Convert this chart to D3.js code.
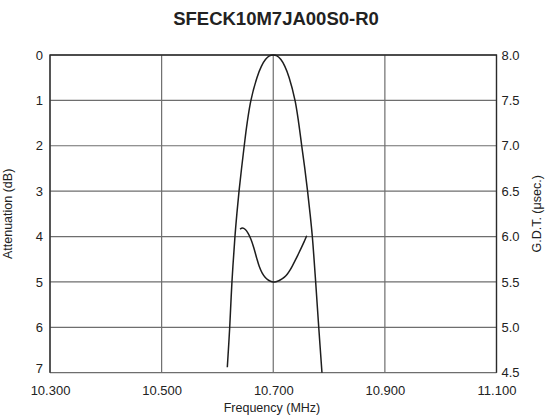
<!DOCTYPE html>
<html>
<head>
<meta charset="utf-8">
<script src="https://cdn.jsdelivr.net/npm/d3@7"></script>
<style>
html,body{margin:0;padding:0;background:#fff;}
svg{display:block;font-family:"Liberation Sans",Arial,Helvetica,sans-serif;}
</style>
</head>
<body>
<svg id="chart" width="554" height="418"></svg>
<script>
const title = "SFECK10M7JA00S0-R0";
const xTicks = [10.3, 10.5, 10.7, 10.9, 11.1];
const xTickLabels = ["10.300", "10.500", "10.700", "10.900", "11.100"];
const attTicks = [0, 1, 2, 3, 4, 5, 6, 7];
const gdtTicks = [8.0, 7.5, 7.0, 6.5, 6.0, 5.5, 5.0, 4.5];

// Attenuation curve (frequency MHz, attenuation dB), left skirt -> peak -> right skirt
const attFreq = [10.6177, 10.6220, 10.6260, 10.6314, 10.6348, 10.6387, 10.6432, 10.6480, 10.6532, 10.6600,
                 10.6708, 10.6787, 10.6860, 10.6932, 10.7000, 10.7066, 10.7137, 10.7208, 10.7285,
                 10.7390, 10.7456, 10.7510, 10.7565, 10.7615, 10.7660, 10.7700, 10.7760, 10.7815, 10.7873];
const attVal  = [6.88, 6.0, 5.0, 4.0, 3.5, 3.0, 2.5, 2.0, 1.5, 1.0,
                 0.5, 0.25, 0.1, 0.02, 0.0, 0.02, 0.1, 0.25, 0.5,
                 1.0, 1.5, 2.0, 2.5, 3.0, 3.5, 4.0, 5.0, 6.0, 7.0];

// Group delay time curve (frequency MHz, G.D.T. usec)
const gdtFreq = [10.6405, 10.645, 10.650, 10.655, 10.660, 10.665, 10.670, 10.675, 10.680, 10.685, 10.690, 10.695,
                 10.700, 10.705, 10.710, 10.715, 10.720, 10.725, 10.730, 10.735, 10.740, 10.745, 10.750, 10.755, 10.760];
const gdtVal  = [6.082, 6.095, 6.078, 6.035, 5.970, 5.880, 5.770, 5.670, 5.600, 5.555, 5.525, 5.508,
                 5.500, 5.503, 5.513, 5.530, 5.553, 5.585, 5.630, 5.685, 5.745, 5.808, 5.872, 5.938, 6.008];

const svg = d3.select("#chart");
const L = 50, R = 496.5, T = 55, B = 372.7;

const x = d3.scaleLinear().domain([10.3, 11.1]).range([L, R]);
const yA = d3.scaleLinear().domain([0, 7]).range([T, B]);
const yG = d3.scaleLinear().domain([8.0, 4.5]).range([T, B]);

// grid
const grid = svg.append("g").attr("stroke", "#6e6e6e").attr("stroke-width", 1.2);
grid.selectAll("line.h").data(attTicks).join("line")
  .attr("x1", L).attr("x2", R).attr("y1", d => yA(d)).attr("y2", d => yA(d));
grid.selectAll("line.v").data(xTicks).join("line")
  .attr("y1", T).attr("y2", B).attr("x1", d => x(d)).attr("x2", d => x(d));

// frame (left, top, right)
svg.append("path")
  .attr("d", `M${L},${B}V${T}H${R}V${B}`)
  .attr("fill", "none").attr("stroke", "#2a2a2a").attr("stroke-width", 1.3);

// axes labels via d3 axes
const axL = svg.append("g").attr("transform", `translate(${L},0)`)
  .call(d3.axisLeft(yA).tickValues(attTicks).tickFormat(d3.format("d")).tickSize(0).tickPadding(7));
const axR = svg.append("g").attr("transform", `translate(${R},0)`)
  .call(d3.axisRight(yG).tickValues(gdtTicks).tickFormat(d3.format(".1f")).tickSize(0).tickPadding(5));
const axB = svg.append("g").attr("transform", `translate(0,${B})`)
  .call(d3.axisBottom(x).tickValues(xTicks).tickFormat((d, i) => xTickLabels[i]).tickSize(0).tickPadding(13));
[axL, axR, axB].forEach(a => {
  a.select(".domain").remove();
  a.selectAll("text").attr("font-size", 13).attr("fill", "#222")
   .attr("font-family", '"Liberation Sans",Arial,sans-serif');
});
// lift the bottom-most left label so it sits above the frequency labels
axL.selectAll(".tick text").filter(d => d === 7).attr("dy", "-0.05em");

// curves
const line = d3.line().curve(d3.curveCatmullRom.alpha(0.5));
svg.append("path")
  .attr("d", line(attFreq.map((f, i) => [x(f), yA(attVal[i])])))
  .attr("fill", "none").attr("stroke", "#1e1e1e").attr("stroke-width", 1.5);
svg.append("path")
  .attr("d", line(gdtFreq.map((f, i) => [x(f), yG(gdtVal[i])])))
  .attr("fill", "none").attr("stroke", "#1e1e1e").attr("stroke-width", 1.5);

// titles
svg.append("text").attr("x", 276).attr("y", 25).attr("text-anchor", "middle")
  .attr("font-size", 18.5).attr("font-weight", "bold").attr("fill", "#222").text(title);
svg.append("text").attr("x", 272).attr("y", 412).attr("text-anchor", "middle")
  .attr("font-size", 12.5).attr("fill", "#222").text("Frequency (MHz)");
svg.append("text").attr("transform", `translate(12,${(T + B) / 2}) rotate(-90)`)
  .attr("text-anchor", "middle").attr("font-size", 12.5).attr("fill", "#222").text("Attenuation (dB)");
svg.append("text").attr("transform", `translate(541,${(T + B) / 2}) rotate(-90)`)
  .attr("text-anchor", "middle").attr("font-size", 12.5).attr("fill", "#222").text("G.D.T. (μsec.)");
</script>
</body>
</html>
